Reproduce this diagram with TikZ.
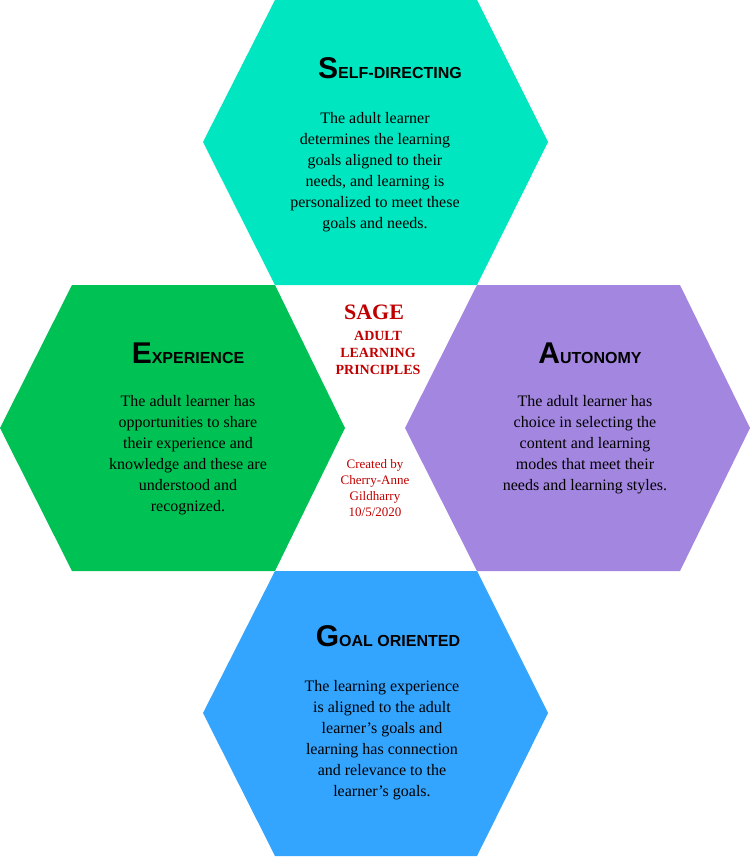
\documentclass[tikz,border=0pt]{standalone}
\usepackage{fontspec}
\setmainfont{Liberation Serif}
\newfontfamily\hdfont{Liberation Sans}
\definecolor{cteal}{HTML}{00E6C0}
\definecolor{cgreen}{HTML}{00C254}
\definecolor{cpurple}{HTML}{A386E0}
\definecolor{cblue}{HTML}{33A5FF}
\definecolor{cred}{HTML}{C00000}
\tikzset{hexa/.style={draw=none},
body/.style={align=center,font=\fontsize{16}{21}\selectfont},
ttl/.style={font=\hdfont\bfseries}}
\newcommand{\hd}[2]{{\fontsize{30}{30}\selectfont #1}{\fontsize{16}{16}\selectfont #2}}
\begin{document}
\begin{tikzpicture}[x=1pt,y=-1pt]
\useasboundingbox (0,0) rectangle (750,857);
\fill[cteal] (275,0) -- (477,0) -- (548,142) -- (477,285) -- (275,285) -- (203,142) -- cycle;
\fill[cgreen] (72,285) -- (275,285) -- (345,428) -- (275,571) -- (72,571) -- (0,428) -- cycle;
\fill[cpurple] (477,285) -- (680,285) -- (750,428) -- (680,571) -- (477,571) -- (405,428) -- cycle;
\fill[cblue] (275,571) -- (477,571) -- (548,713) -- (477,856) -- (275,856) -- (203,713) -- cycle;
\node[ttl] (t1) at (390,68) {\hd{S}{ELF-DIRECTING}};
\node[body] (b1) at (375,172) {The adult learner\\determines the learning\\goals aligned to their\\needs, and learning is\\personalized to meet these\\goals and needs.};
\node[ttl] (t2) at (188,353) {\hd{E}{XPERIENCE}};
\node[body] (b2) at (188,455) {The adult learner has\\opportunities to share\\their experience and\\knowledge and these are\\understood and\\recognized.};
\node[ttl] (t3) at (590,353) {\hd{A}{UTONOMY}};
\node[body] (b3) at (585,445) {The adult learner has\\choice in selecting the\\content and learning\\modes that meet their\\needs and learning styles.};
\node[ttl] (t4) at (388,636) {\hd{G}{OAL ORIENTED}};
\node[body] (b4) at (382,740) {The learning experience\\is aligned to the adult\\learner's goals and\\learning has connection\\and relevance to the\\learner's goals.};
\node[text=cred,font=\bfseries\fontsize{22}{22}\selectfont] (sage) at (374,312) {SAGE};
\node[text=cred,align=center,font=\bfseries\fontsize{14}{17}\selectfont] (alp) at (378,353) {ADULT\\LEARNING\\PRINCIPLES};
\node[text=cred,align=center,font=\fontsize{13}{16}\selectfont] (cr) at (375,488) {Created by\\Cherry-Anne\\Gildharry\\10/5/2020};
\end{tikzpicture}
\end{document}
